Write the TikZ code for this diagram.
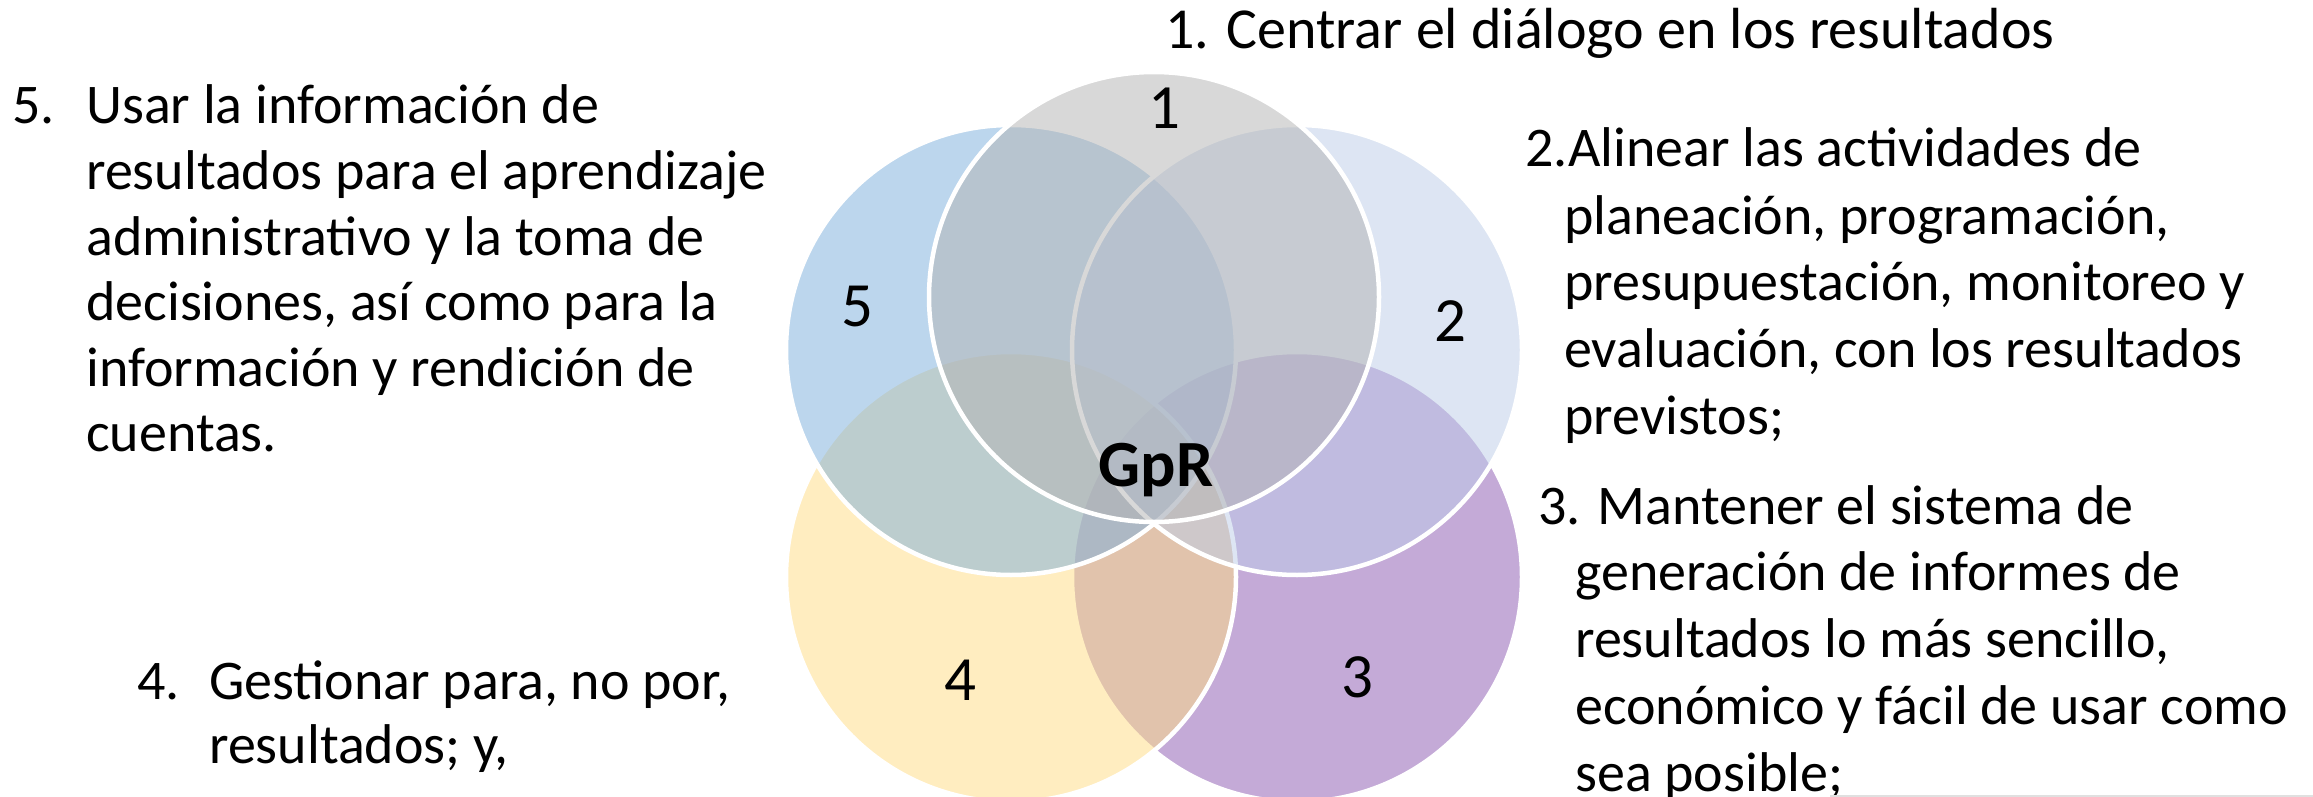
\documentclass[tikz,border=0pt]{standalone}
\usepackage{fontspec}
\setmainfont{Carlito}
\definecolor{cA}{RGB}{179,179,179}
\definecolor{cB}{RGB}{189,205,233}
\definecolor{cC}{RGB}{139,87,177}
\definecolor{cD}{RGB}{255,221,131}
\definecolor{cE}{RGB}{123,175,221}
\begin{document}
\begin{tikzpicture}[x=1pt,y=-1pt,
  venn/.style={draw=white, line width=4.5pt, fill opacity=0.5},
  txt/.style={anchor=base west, inner sep=0pt, font=\fontsize{56}{66}\selectfont},
  lbl/.style={anchor=base, inner sep=0pt, font=\fontsize{63}{72}\selectfont},
]
\fill[white] (0,0) rectangle (2313,797);
\useasboundingbox (0,0) rectangle (2313,797);
% circles (drawing order 3,4,5,2,1)
\path[venn, fill=cC] (1297,577) circle[radius=225pt];
\path[venn, fill=cD] (1011,577) circle[radius=225pt];
\path[venn, fill=cE] (1011,350) circle[radius=225pt];
\path[venn, fill=cB] (1297,350) circle[radius=225pt];
\path[venn, fill=cA] (1154,297) circle[radius=225pt];
% labels
\node[lbl] (l1) at (1164,129) {1};
\node[lbl] (l5) at (857,326) {5};
\node[lbl] (l2) at (1450,341) {2};
\node[lbl] (l4) at (960,700) {4};
\node[lbl] (l3) at (1357,697) {3};
\node[lbl, font=\fontsize{66}{72}\selectfont\bfseries] (gpr) at (1156,486) {GpR};
% left texts
\node[txt] (n5) at (12,124) {5.};
\node[txt, font=\fontsize{56}{65.6}\selectfont] (t5) at (86,124) {\parbox[t]{900pt}{\raggedright\noindent
Usar la información de\\
resultados para el aprendizaje\\
administrativo y la toma de\\
decisiones, así como para la\\
información y rendición de\\
cuentas.}};
\node[txt] (n4) at (137,699) {4.};
\node[txt, font=\fontsize{56}{64}\selectfont] (t4) at (209,699) {\parbox[t]{900pt}{\raggedright\noindent
Gestionar para, no por,\\
resultados; y,}};
% right texts
\node[txt, font=\fontsize{58}{66}\selectfont] (t1) at (1165,49) {1. Centrar el diálogo en los resultados};
\node[txt] (t2a) at (1525,166) {2.Alinear las actividades de};
\node[txt, font=\fontsize{56}{66.7}\selectfont] (t2b) at (1564,234) {\parbox[t]{900pt}{\raggedright\noindent
planeación, programación,\\
presupuestación, monitoreo y\\
evaluación, con los resultados\\
previstos;}};
\node[txt] (t3a) at (1538,524) {3. Mantener el sistema de};
\node[txt, font=\fontsize{56}{67}\selectfont] (t3b) at (1575,590) {\parbox[t]{900pt}{\raggedright\noindent
generación de informes de\\
resultados lo más sencillo,\\
económico y fácil de usar como\\
sea posible;}};
\draw[black!12, line width=2pt] (1830,795.5) -- (2313,795.5);
\end{tikzpicture}
\end{document}
